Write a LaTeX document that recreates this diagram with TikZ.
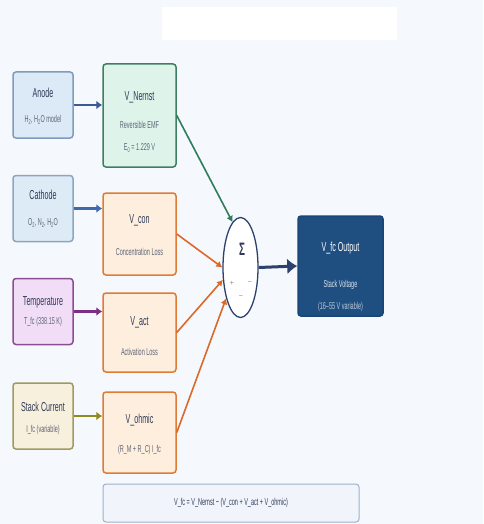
\documentclass[tikz,border=0pt]{standalone}
\usepackage{fontspec}
\setmainfont{Liberation Sans}
\usepackage{graphicx}
\usetikzlibrary{shapes.geometric}
\usetikzlibrary{arrows.meta}
\usetikzlibrary{calc}
\definecolor{bgpale}{HTML}{F5F8FC}
\definecolor{anodefill}{HTML}{DCE9F7}
\definecolor{anodeline}{HTML}{7F9BBE}
\definecolor{anodearrow}{HTML}{3D5A96}
\definecolor{cathfill}{HTML}{DDEBF6}
\definecolor{cathline}{HTML}{8DA6C0}
\definecolor{catharrow}{HTML}{4169AA}
\definecolor{tempfill}{HTML}{F2DDF6}
\definecolor{templine}{HTML}{8C4E93}
\definecolor{temparrow}{HTML}{7B2E84}
\definecolor{stackfill}{HTML}{F7F0DD}
\definecolor{stackline}{HTML}{A09A62}
\definecolor{stackarrow}{HTML}{8F8B1E}
\definecolor{nernstfill}{HTML}{DEF4EA}
\definecolor{nernstline}{HTML}{3E7F62}
\definecolor{nernstarrow}{HTML}{2F7D5A}
\definecolor{lossfill}{HTML}{FDEEDD}
\definecolor{lossline}{HTML}{E07B35}
\definecolor{lossarrow}{HTML}{D96A2C}
\definecolor{outfill}{HTML}{1E4F80}
\definecolor{outline}{HTML}{1A4574}
\definecolor{sumline}{HTML}{2D416E}
\definecolor{formfill}{HTML}{F1F5FB}
\definecolor{formline}{HTML}{9DB1CC}
\definecolor{ttltext}{HTML}{2F3A58}
\definecolor{notetext}{HTML}{5E6478}
\newcommand{\squeeze}[1]{\scalebox{0.55}[1]{#1}}

\begin{document}
\begin{tikzpicture}[x=1pt,y=-1pt,
box/.style={draw, rounded corners=3pt, line width=1.5pt, inner sep=0pt},
inbox/.style={box, minimum width=60pt, minimum height=66pt},
vbox/.style={box, minimum width=73pt},
loss/.style={vbox, draw=lossline, fill=lossfill},
ttl/.style={font=\fontsize{13}{15}\selectfont, text=ttltext, inner sep=0pt},
note/.style={font=\fontsize{10}{12}\selectfont, text=notetext, inner sep=0pt},
feed/.style={-{Latex[length=6pt,width=9pt]}, line width=2.2pt},
term/.style={-{Latex[length=6pt,width=7pt]}, line width=1.6pt}]

% page
\fill[bgpale] (0,0) rectangle (483,524);
\fill[white] (162,7) rectangle (397,40);

% inputs
\node[inbox, fill=anodefill, draw=anodeline] (anode) at (43,105) {};
\node[inbox, fill=cathfill, draw=cathline] (cathode) at (43,208.5) {};
\node[inbox, fill=tempfill, draw=templine] (temp) at (43,311.5) {};
\node[inbox, fill=stackfill, draw=stackline] (stack) at (43,416) {};

% voltage terms
\node[vbox, minimum height=103pt, fill=nernstfill, draw=nernstline] (nernst) at (139.5,115.5) {};
\node[loss, minimum height=82pt] (vcon) at (139.5,234) {};
\node[loss, minimum height=79pt] (vact) at (139.5,332.5) {};
\node[loss, minimum height=81pt] (vohm) at (139.5,432.5) {};

% sum and output
\node[ellipse, draw=sumline, fill=white, line width=1.3pt, minimum width=35pt, minimum height=100pt, inner sep=0pt] (sum) at (240.5,267.5) {};
\node[box, draw=outline, fill=outfill, minimum width=85pt, minimum height=100pt] (out) at (340.5,266) {};
\node[box, draw=formline, fill=formfill, line width=1pt, minimum width=256pt, minimum height=38pt] (formula) at (231,503) {};

% texts
\node[ttl] (anode-t) at ($(anode)+(0,-12)$) {\squeeze{Anode}};
\node[note] (anode-n) at ($(anode)+(0,15)$) {\squeeze{H\textsubscript{2}, H\textsubscript{2}O model}};
\node[ttl] (cathode-t) at ($(cathode)+(0,-13.5)$) {\squeeze{Cathode}};
\node[note] (cathode-n) at ($(cathode)+(0,14.5)$) {\squeeze{O\textsubscript{2}, N\textsubscript{2}, H\textsubscript{2}O}};
\node[ttl] (temp-t) at ($(temp)+(0,-9.5)$) {\squeeze{Temperature}};
\node[note] (temp-n) at ($(temp)+(0,10.5)$) {\squeeze{T\_fc (338.15 K)}};
\node[ttl] (stack-t) at ($(stack)+(0,-9)$) {\squeeze{Stack Current}};
\node[note] (stack-n) at ($(stack)+(0,14)$) {\squeeze{I\_fc (variable)}};

\node[ttl] (nernst-t) at ($(nernst)+(0,-18.5)$) {\squeeze{V\_Nernst}};
\node[note] (nernst-n) at ($(nernst)+(0,9.5)$) {\squeeze{Reversible EMF}};
\node[note] (nernst-e) at ($(nernst)+(0,32.5)$) {\squeeze{E\textsubscript{0} = 1.229 V}};
\node[ttl] (vcon-t) at ($(vcon)+(0,-14)$) {\squeeze{V\_con}};
\node[note] (vcon-n) at ($(vcon)+(0,18)$) {\squeeze{Concentration Loss}};
\node[ttl] (vact-t) at ($(vact)+(0,-10.5)$) {\squeeze{V\_act}};
\node[note] (vact-n) at ($(vact)+(0,19.5)$) {\squeeze{Activation Loss}};
\node[ttl] (vohm-t) at ($(vohm)+(0,-12.5)$) {\squeeze{V\_ohmic}};
\node[note] (vohm-n) at ($(vohm)+(0,17.5)$) {\squeeze{(R\_M + R\_C) I\_fc}};

\node[font=\fontsize{18}{20}\selectfont\bfseries, text=ttltext, inner sep=0pt] (sum-s) at (242,249) {\squeeze{Σ}};
\node[note, font=\fontsize{7}{8}\selectfont, text=gray] (sum-p) at (232,283) {+};
\node[note, font=\fontsize{7}{8}\selectfont, text=gray] (sum-m) at (250,283) {−};
\node[note, font=\fontsize{7}{8}\selectfont, text=gray] (sum-q) at (241,297) {−};

\node[ttl, text=white] (out-t) at ($(out)+(0,-18)$) {\squeeze{V\_fc Output}};
\node[note, text=white!85!outfill] (out-n) at ($(out)+(0,19)$) {\squeeze{Stack Voltage}};
\node[note, text=white!70!outfill] (out-r) at ($(out)+(0,41)$) {\squeeze{(16–55 V variable)}};

\node[note, text=ttltext] (formula-t) at (formula) {\squeeze{V\_fc = V\_Nernst − (V\_con + V\_act + V\_ohmic)}};

% connectors
\draw[feed, anodearrow] (anode.east) -- (anode.east -| nernst.west);
\draw[feed, catharrow] (cathode.east) -- (cathode.east -| vcon.west);
\draw[feed, temparrow] (temp.east) -- (temp.east -| vact.west);
\draw[feed, stackarrow] (stack.east) -- (stack.east -| vohm.west);

\draw[term, nernstarrow] (nernst.east) -- (sum.100);
\draw[term, lossarrow] (vcon.east) -- (sum.180);
\draw[term, lossarrow] (vact.east) -- (sum.215);
\draw[term, lossarrow] (vohm.east) -- (sum.245);
\draw[-{Latex[length=10pt,width=16pt]}, line width=3pt, sumline] (sum.east) -- (out.west);

\end{tikzpicture}
\end{document}
